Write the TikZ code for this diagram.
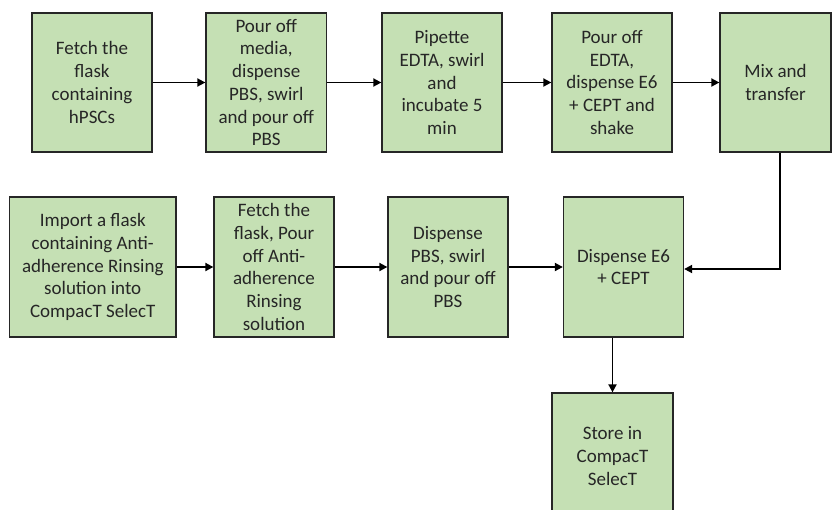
\documentclass[tikz,border=0pt]{standalone}
\usepackage{fontspec}
\setmainfont{Carlito}
\usetikzlibrary{arrows.meta}
\definecolor{boxfill}{HTML}{C5E0B4}
\definecolor{boxline}{HTML}{262626}
\tikzset{
  stepbox/.style={draw=boxline, line width=1.3pt, fill=boxfill, inner sep=0pt,
    align=center, font=\fontsize{19pt}{22.7pt}\selectfont, text=black!85},
  arr/.style={line width=1.8pt, -{Triangle[length=8pt,width=8pt]}}
}
\newcommand{\boxat}[6]{% name, x1, y1, x2, y2, text
  \node[stepbox, minimum width={#4-#2}, minimum height={#5-#3}] (#1) at ({(#2+#4)/2},{(#3+#5)/2}) {#6};}
\begin{document}
\begin{tikzpicture}[x=1pt,y=-1pt]
\useasboundingbox (0,0) rectangle (832,509);
\clip (0,0) rectangle (832,509);
\boxat{b1}{32}{13}{152}{152}{Fetch the\\flask\\containing\\hPSCs}
\boxat{b2}{206}{13}{326.5}{152}{Pour off\\media,\\dispense\\PBS, swirl\\and pour off\\PBS}
\boxat{b3}{382}{13}{502}{152}{Pipette\\EDTA, swirl\\and\\incubate 5\\min}
\boxat{b4}{552}{13}{672}{152}{Pour off\\EDTA,\\dispense E6\\+ CEPT and\\shake}
\boxat{b5}{720}{13}{831}{152}{Mix and\\transfer}
\boxat{b6}{9.5}{197}{176}{337}{Import a flask\\containing Anti-\\adherence Rinsing\\solution into\\CompacT SelecT}
\boxat{b7}{214}{197}{334}{337}{Fetch the\\flask, Pour\\off Anti-\\adherence\\Rinsing\\solution}
\boxat{b8}{388}{197}{508}{337}{Dispense\\PBS, swirl\\and pour off\\PBS}
\boxat{b9}{563.5}{197}{683.5}{337}{Dispense E6\\+ CEPT}
\boxat{b10}{552}{393}{673}{519}{Store in\\CompacT\\SelecT}
\draw[arr] (b1) -- (b2);
\draw[arr] (b2) -- (b3);
\draw[arr] (b3) -- (b4);
\draw[arr] (b4) -- (b5);
\draw[arr] (b6) -- (b7);
\draw[arr] (b7) -- (b8);
\draw[arr] (b8) -- (b9);
\draw[arr] ([xshift=4.5pt]b5.south) |- ([yshift=-2pt]b9.east);
\draw[arr] (b9.south -| b10.north) -- (b10.north);
\end{tikzpicture}
\end{document}
